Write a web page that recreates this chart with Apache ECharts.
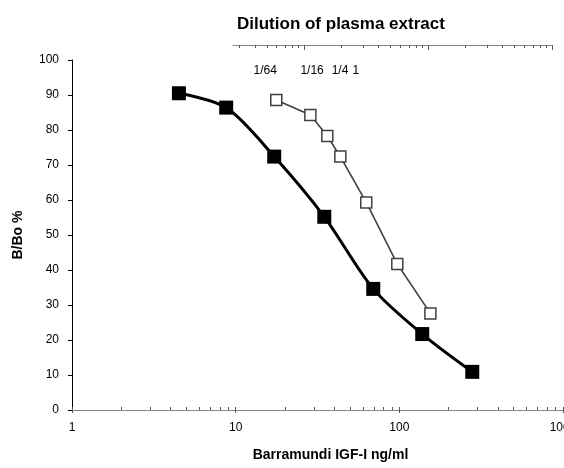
<!DOCTYPE html>
<html>
<head>
<meta charset="utf-8">
<script src="https://cdn.jsdelivr.net/npm/echarts@6/dist/echarts.min.js"></script>
<style>
  html, body { margin: 0; padding: 0; background: #fff; }
  #chart { width: 564px; height: 468px; }
</style>
</head>
<body>
<div id="chart"></div>
<script>
// ---- Data ----
const stdDose = [4.5, 8.75, 17.2, 34.8, 69.3, 138, 279];        // Barramundi IGF-I standard, ng/ml
const stdBBo  = [90.5, 86.4, 72.4, 55.2, 34.6, 21.7, 10.9];     // B/Bo %
const extDose = [17.7, 28.6, 36.3, 43.6, 62.8, 97.2, 154.8];    // plasma extract dilutions
const extBBo  = [88.6, 84.3, 78.3, 72.4, 59.3, 41.7, 27.6];

const dilutionLabels = ['1/64', '1/16', '1/4', '1'];
const dilutionLabelValues = [4.85, 11.6, 19.5, 26.2];           // positions on the top dilution scale

const bottomMajor = [1, 10, 100, 1000];
const bottomMinor = [1, 2, 3, 4, 5, 6, 7, 8, 9, 10, 20, 30, 40, 50, 60, 70, 80, 90, 100,
                     200, 300, 400, 500, 600, 700, 800, 900, 1000];
const topMajor = [10, 100, 1000];
const topMinor = [3, 4, 5, 6, 7, 8, 9, 20, 30, 40, 50, 60, 70, 80, 90,
                  200, 300, 400, 500, 600, 700, 800, 900];
const yTicks = [0, 10, 20, 30, 40, 50, 60, 70, 80, 90, 100];

const FONT = 'Liberation Sans, Arial, sans-serif';
const TICK = '#5a5a5a';

function pairs(xs, ys) { return xs.map((x, i) => [x, ys[i]]); }

const chart = echarts.init(document.getElementById('chart'), null, { renderer: 'canvas' });

chart.setOption({
  animation: false,
  backgroundColor: '#fff',
  title: {
    text: 'Dilution of plasma extract',
    left: 232, top: 11,
    textStyle: { fontFamily: FONT, fontSize: 17, fontWeight: 'bold', color: '#000' }
  },
  grid: [
    { left: 72, right: 1, top: 60, bottom: 58, containLabel: false, outerBoundsMode: 'none' },
    { left: 233, right: 12, top: 45, height: 10, containLabel: false, outerBoundsMode: 'none' }
  ],
  xAxis: [
    {
      type: 'log', logBase: 10, min: 1, max: 1000, gridIndex: 0, position: 'bottom',
      axisLine: { onZero: false, lineStyle: { color: '#868686', width: 1 } },
      axisTick: { inside: false, length: 3, lineStyle: { color: TICK }, customValues: bottomMajor },
      axisLabel: {
        fontFamily: FONT, fontSize: 12, color: '#000', margin: 12, customValues: bottomMajor,
        formatter: function (v) { return String(Math.round(v)); }
      },
      splitLine: { show: false },
      name: 'Barramundi IGF-I ng/ml', nameLocation: 'middle', nameGap: 38,
      nameTextStyle: { fontFamily: FONT, fontSize: 14, fontWeight: 'bold', color: '#000', padding: [0, 0, 0, 26] }
    },
    {
      type: 'log', logBase: 10, min: 1, max: 1000, gridIndex: 0, position: 'bottom',
      axisLine: { show: false, onZero: false },
      axisTick: { inside: true, length: 3, lineStyle: { color: TICK }, customValues: bottomMinor },
      axisLabel: { show: false },
      splitLine: { show: false }
    },
    {
      type: 'log', logBase: 10, min: 2.67, max: 1000, gridIndex: 1, position: 'top',
      axisLine: { onZero: false, lineStyle: { color: '#868686', width: 1 } },
      axisTick: { inside: true, length: 5, lineStyle: { color: TICK }, customValues: topMajor },
      axisLabel: {
        inside: true, margin: 20, fontFamily: FONT, fontSize: 12, color: '#000',
        customValues: dilutionLabelValues,
        formatter: function (v) {
          let best = 0, bd = Infinity;
          dilutionLabelValues.forEach((d, i) => {
            const dd = Math.abs(Math.log10(d) - Math.log10(v));
            if (dd < bd) { bd = dd; best = i; }
          });
          return dilutionLabels[best];
        }
      },
      splitLine: { show: false }
    },
    {
      type: 'log', logBase: 10, min: 2.67, max: 1000, gridIndex: 1, position: 'top', offset: 0,
      axisLine: { show: false, onZero: false },
      axisTick: { inside: true, length: 3, lineStyle: { color: TICK }, customValues: topMinor },
      axisLabel: { show: false },
      splitLine: { show: false }
    }
  ],
  yAxis: [
    {
      type: 'value', min: 0, max: 100, interval: 10, gridIndex: 0,
      axisLine: { show: true, onZero: false, lineStyle: { color: '#000', width: 1 } },
      axisTick: { show: true, inside: false, length: 4, lineStyle: { color: '#000' }, customValues: yTicks },
      axisLabel: { fontFamily: FONT, fontSize: 12, color: '#000', margin: 13 },
      splitLine: { show: false },
      name: 'B/Bo %', nameLocation: 'middle', nameGap: 47, nameRotate: 90,
      nameTextStyle: { fontFamily: FONT, fontSize: 14, fontWeight: 'bold', color: '#000' }
    },
    {
      type: 'value', gridIndex: 1, show: false, min: 0, max: 1
    }
  ],
  series: [
    {
      name: 'Standard', type: 'line', xAxisIndex: 0, yAxisIndex: 0,
      data: pairs(stdDose, stdBBo),
      smooth: 0.3,
      lineStyle: { color: '#000', width: 3 },
      symbol: 'rect', symbolSize: 14,
      itemStyle: { color: '#000', borderColor: '#000', borderWidth: 0 },
      z: 3
    },
    {
      name: 'Plasma extract', type: 'line', xAxisIndex: 0, yAxisIndex: 0,
      data: pairs(extDose, extBBo),
      smooth: false,
      lineStyle: { color: '#404040', width: 1.6 },
      symbol: 'rect', symbolSize: 11,
      itemStyle: { color: '#fff', borderColor: '#404040', borderWidth: 1.5 },
      z: 4
    }
  ]
});
</script>
</body>
</html>
